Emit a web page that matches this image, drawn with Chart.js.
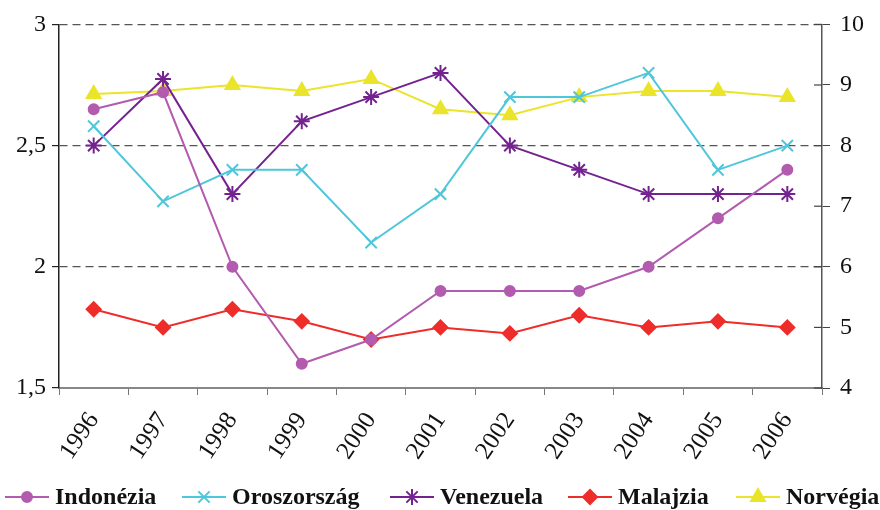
<!DOCTYPE html>
<html>
<head>
<meta charset="utf-8">
<script src="https://cdn.jsdelivr.net/npm/chart.js@4/dist/chart.umd.min.js"></script>
<style>
  html, body { margin: 0; padding: 0; background: #fff; }
  #wrap { width: 880px; height: 510px; }
</style>
</head>
<body>
<div id="wrap"><canvas id="grafico" width="880" height="510"></canvas></div>
<script>
// évek
const evek = ['1996', '1997', '1998', '1999', '2000', '2001', '2002', '2003', '2004', '2005', '2006'];

// bal tengely (1,5 - 3)
const indonezia = [2.65, 2.72, 2.0, 1.6, 1.7, 1.9, 1.9, 1.9, 2.0, 2.2, 2.4];
const oroszorszag = [2.58, 2.27, 2.4, 2.4, 2.1, 2.3, 2.7, 2.7, 2.8, 2.4, 2.5];

// jobb tengely (4 - 10)
const venezuela = [8.0, 9.1, 7.2, 8.4, 8.8, 9.2, 8.0, 7.6, 7.2, 7.2, 7.2];
const malajzia = [5.3, 5.0, 5.3, 5.1, 4.8, 5.0, 4.9, 5.2, 5.0, 5.1, 5.0];
const norvegia = [8.85, 8.9, 9.0, 8.9, 9.1, 8.6, 8.5, 8.8, 8.9, 8.9, 8.8];

const balTicks = [1.5, 2, 2.5, 3];
const jobbTicks = [4, 5, 6, 7, 8, 9, 10];

const serif = "'Liberation Serif', 'DejaVu Serif', serif";

function sorozat(label, data, szin, stilus, meret, tengely) {
    return {
        label: label,
        data: data,
        yAxisID: tengely,
        borderColor: szin,
        backgroundColor: szin,
        borderWidth: 2,
        pointStyle: stilus,
        pointRadius: meret,
        pointHoverRadius: meret,
        pointBorderWidth: 2,
        tension: 0
    };
}

// kézi jelmagyarázat: vonal + jelölő, és a jobb tengely befelé álló osztásai
const jelmagyarazat = {
    id: 'jelmagyarazat',
    afterDraw(chart) {
        const ctx = chart.ctx;
        const jobb = chart.scales.jobb;
        ctx.save();
        ctx.strokeStyle = '#444';
        ctx.lineWidth = 1.2;
        jobb.ticks.forEach(t => {
            const ty = jobb.getPixelForValue(t.value);
            ctx.beginPath();
            ctx.moveTo(jobb.left - 8, ty);
            ctx.lineTo(jobb.left, ty);
            ctx.stroke();
        });

        const kezdet = [5, 182, 390, 568, 736];
        const y = 497;
        chart.data.datasets.forEach((ds, i) => {
            const x = kezdet[i];
            ctx.strokeStyle = ds.borderColor;
            ctx.fillStyle = ds.backgroundColor;
            ctx.lineWidth = 2;
            ctx.beginPath();
            ctx.moveTo(x, y);
            ctx.lineTo(x + 44, y);
            ctx.stroke();
            if (Chart.helpers && Chart.helpers.drawPoint) {
                Chart.helpers.drawPoint(ctx, {
                    pointStyle: ds.pointStyle,
                    radius: ds.pointRadius,
                    borderWidth: 2,
                    rotation: 0
                }, x + 22, y);
            }
            ctx.fillStyle = '#111';
            ctx.font = 'bold 24px ' + serif;
            ctx.textBaseline = 'middle';
            ctx.textAlign = 'left';
            ctx.fillText(ds.label, x + 50, y + 1);
        });
        ctx.restore();
    }
};

const canvas = document.getElementById('grafico');
const grafico = new Chart(canvas, {
    type: 'line',
    data: {
        labels: evek,
        datasets: [
            sorozat('Indonézia', indonezia, '#B25BAF', 'circle', 5, 'bal'),
            sorozat('Oroszország', oroszorszag, '#4FC7DA', 'crossRot', 8, 'bal'),
            sorozat('Venezuela', venezuela, '#74228F', 'star', 8, 'jobb'),
            sorozat('Malajzia', malajzia, '#EE2D2B', 'rectRot', 7, 'jobb'),
            sorozat('Norvégia', norvegia, '#EAE42A', 'triangle', 8, 'jobb')
        ]
    },
    options: {
        responsive: false,
        animation: false,
        layout: { padding: { top: 22, right: 0, left: 0, bottom: 0 } },
        plugins: {
            legend: { display: false },
            tooltip: { enabled: false }
        },
        scales: {
            x: {
                offset: true,
                grid: {
                    offset: true,
                    drawOnChartArea: false,
                    tickLength: 7,
                    tickColor: '#777',
                    color: '#777'
                },
                border: { color: '#888', width: 2 },
                ticks: {
                    color: '#111',
                    font: { family: serif, size: 25 },
                    minRotation: 56,
                    maxRotation: 56,
                    padding: 12
                },
                afterFit(scale) { scale.height = 122; }
            },
            bal: {
                position: 'left',
                min: 1.5,
                max: 3,
                afterBuildTicks(scale) { scale.ticks = balTicks.map(v => ({ value: v })); },
                grid: {
                    color: ctx => (ctx.tick && ctx.tick.value === 1.5) ? 'rgba(0,0,0,0)' : '#555',
                    lineWidth: 1.2,
                    tickColor: '#222',
                    tickLength: 7,
                    tickBorderDash: []
                },
                border: { color: '#222', width: 1.5, dash: [8, 5] },
                ticks: {
                    color: '#111',
                    font: { family: serif, size: 24 },
                    padding: 6,
                    callback: v => String(v).replace('.', ',')
                },
                afterFit(scale) { scale.width = 59; }
            },
            jobb: {
                position: 'right',
                min: 4,
                max: 10,
                afterBuildTicks(scale) { scale.ticks = jobbTicks.map(v => ({ value: v })); },
                grid: {
                    drawOnChartArea: false,
                    tickColor: '#444',
                    tickLength: 8
                },
                border: { color: '#555', width: 1.5 },
                ticks: {
                    color: '#111',
                    font: { family: serif, size: 24 },
                    padding: 10
                },
                afterFit(scale) { scale.width = 58; }
            }
        }
    },
    plugins: [jelmagyarazat]
});
</script>
</body>
</html>
